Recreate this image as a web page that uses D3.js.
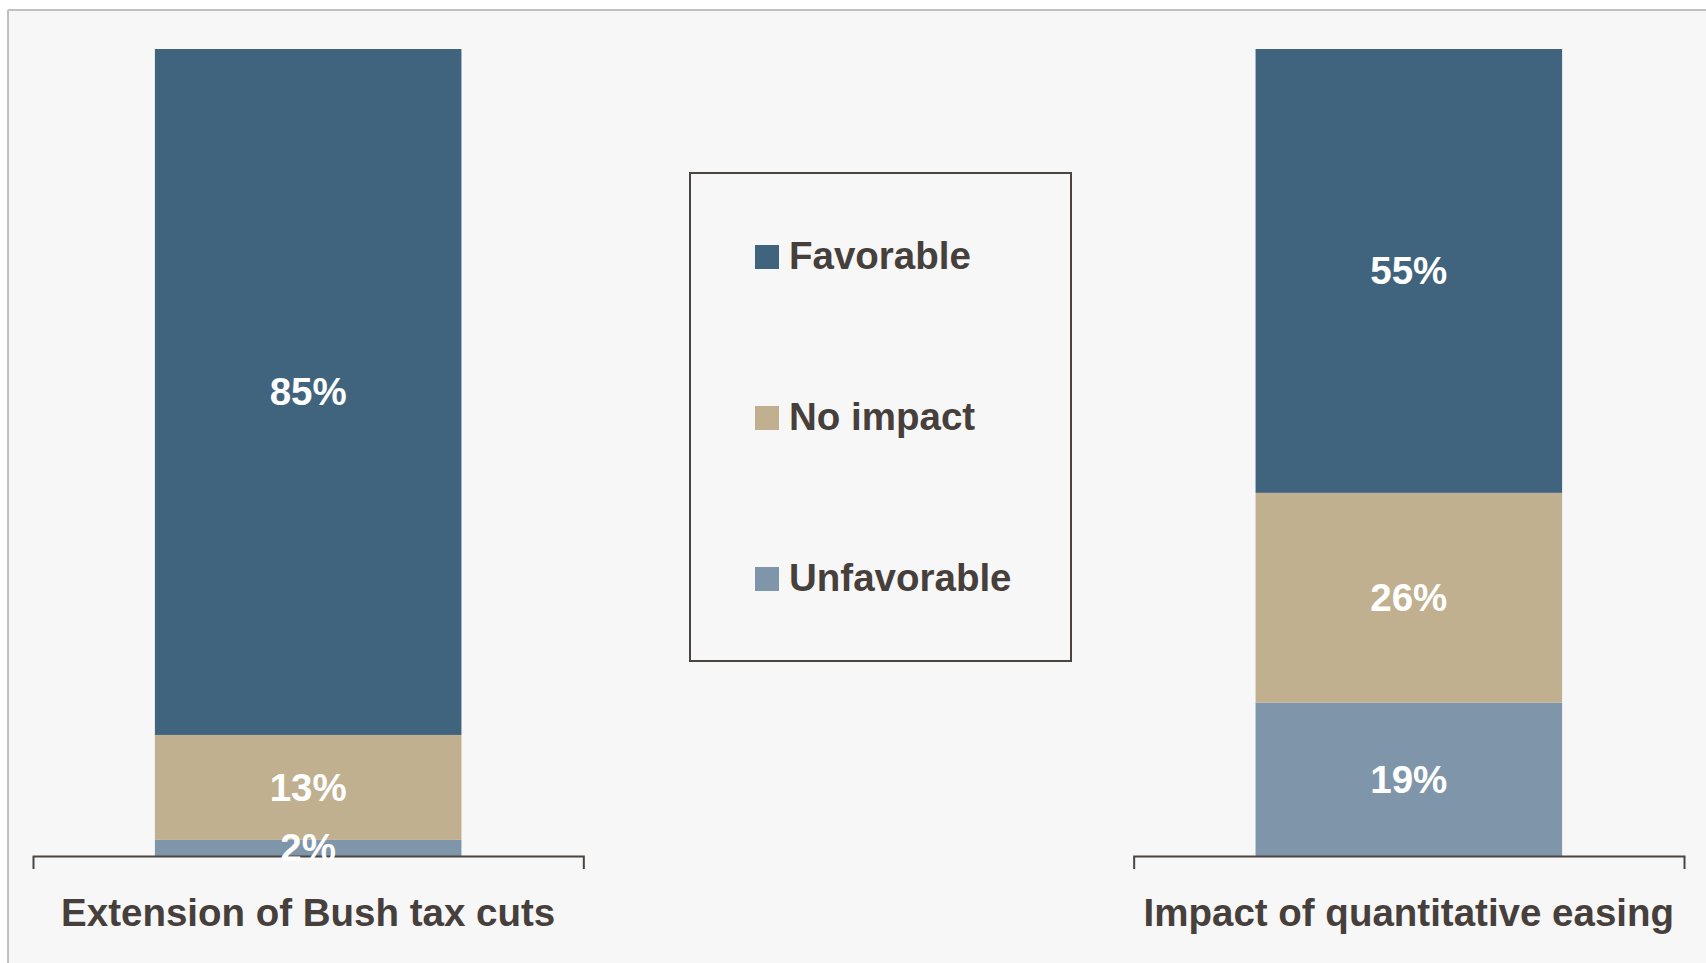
<!DOCTYPE html>
<html>
<head>
<meta charset="utf-8">
<script src="https://cdn.jsdelivr.net/npm/d3@7"></script>
<style>
  html, body { margin: 0; padding: 0; background: #ffffff; }
  svg { display: block; }
  text { font-family: "Liberation Sans", Arial, sans-serif; font-weight: bold; }
</style>
</head>
<body>
<svg id="chart" width="1706" height="963"></svg>
<script>
// Survey questions (one stacked bar each)
const categories = ["Extension of Bush tax cuts", "Impact of quantitative easing"];
// Response shares, stacked bottom to top
const seriesNames = ["Unfavorable", "No impact", "Favorable"];
const unfavorable = [2, 19];
const noImpact = [13, 26];
const favorable = [85, 55];
// Legend order (top to bottom)
const legendOrder = ["Favorable", "No impact", "Unfavorable"];

const colors = {
  "Favorable": "#41647e",
  "No impact": "#c0b08f",
  "Unfavorable": "#7f96aa"
};
const textColor = "#463f3b";
const lineColor = "#4b4541";

const W = 1706, H = 963;
const svg = d3.select("#chart");

// panel background with grey frame on top and left
svg.append("rect").attr("x", 8).attr("y", 10).attr("width", W - 8).attr("height", H - 10)
  .attr("fill", "#f7f7f7");
svg.append("line").attr("x1", 8).attr("x2", W).attr("y1", 10).attr("y2", 10)
  .attr("stroke", "#c0c0c0").attr("stroke-width", 2);
svg.append("line").attr("x1", 8).attr("x2", 8).attr("y1", 10).attr("y2", H)
  .attr("stroke", "#c0c0c0").attr("stroke-width", 2);

const table = categories.map((c, i) => ({
  category: c,
  "Unfavorable": unfavorable[i],
  "No impact": noImpact[i],
  "Favorable": favorable[i]
}));

const x = d3.scaleBand().domain(categories).range([33, 1684]).paddingInner(0.5).paddingOuter(0);
const y = d3.scaleLinear().domain([0, 100]).range([856, 49]);
const barFrac = 0.557;
const barW = x.bandwidth() * barFrac;
const barX = c => x(c) + (x.bandwidth() - barW) / 2;

const stack = d3.stack().keys(seriesNames);
const layers = stack(table);

const gBars = svg.append("g");
layers.forEach(layer => {
  gBars.selectAll(null).data(layer).join("rect")
    .attr("x", d => barX(d.data.category))
    .attr("width", barW)
    .attr("y", d => y(d[1]))
    .attr("height", d => y(d[0]) - y(d[1]))
    .attr("fill", colors[layer.key]);
});

// baseline under each bar, with end ticks
categories.forEach(c => {
  const g = svg.append("g").attr("transform", `translate(0,${y(0)})`);
  const axis = d3.axisBottom(d3.scaleBand().domain([c]).range([x(c), x(c) + x.bandwidth()]))
    .tickValues([]).tickSizeOuter(13);
  g.call(axis);
  g.select(".domain").attr("stroke", lineColor).attr("stroke-width", 2);
  g.append("text")
    .attr("x", x(c) + x.bandwidth() / 2)
    .attr("y", 70)
    .attr("text-anchor", "middle")
    .attr("fill", textColor)
    .attr("font-size", 38.5)
    .style("font-family", '"Liberation Sans", Arial, sans-serif')
    .style("font-weight", "bold")
    .text(c);
});

// value labels inside segments
const gLabels = svg.append("g");
layers.forEach(layer => {
  gLabels.selectAll(null).data(layer).join("text")
    .attr("x", d => barX(d.data.category) + barW / 2)
    .attr("y", d => (y(d[0]) + y(d[1])) / 2)
    .attr("dy", "0.35em")
    .attr("text-anchor", "middle")
    .attr("fill", "#ffffff")
    .attr("font-size", 38.5)
    .text(d => `${d.data[layer.key]}%`);
});

// legend box
const lg = svg.append("g");
lg.append("rect").attr("x", 690).attr("y", 173).attr("width", 381).attr("height", 488)
  .attr("fill", "none").attr("stroke", lineColor).attr("stroke-width", 2);
const ly = d3.scalePoint().domain(legendOrder).range([269, 591]);
legendOrder.forEach(k => {
  lg.append("rect").attr("x", 755).attr("y", ly(k) - 24).attr("width", 24).attr("height", 24)
    .attr("fill", colors[k]);
  lg.append("text").attr("x", 789).attr("y", ly(k))
    .attr("fill", textColor).attr("font-size", 38.5).text(k);
});
</script>
</body>
</html>
